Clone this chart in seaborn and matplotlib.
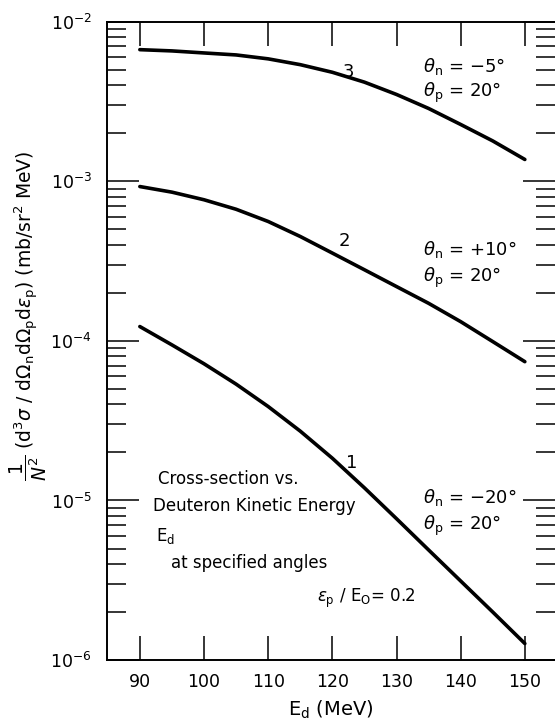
import numpy as np
import pandas as pd
import seaborn as sb
import matplotlib.pyplot as plt
from matplotlib.ticker import LogLocator, NullFormatter, FixedLocator

# energies (MeV) and cross sections
energy = [90, 95, 100, 105, 110, 115, 120, 125, 130, 135, 140, 145, 150]
curve3 = [6.68e-3, 6.56e-3, 6.37e-3, 6.19e-3, 5.85e-3, 5.38e-3, 4.82e-3,
          4.18e-3, 3.50e-3, 2.86e-3, 2.27e-3, 1.79e-3, 1.37e-3]
curve2 = [9.27e-4, 8.55e-4, 7.66e-4, 6.68e-4, 5.60e-4, 4.51e-4, 3.55e-4,
          2.79e-4, 2.19e-4, 1.72e-4, 1.32e-4, 9.9e-5, 7.41e-5]
curve1 = [1.23e-4, 9.44e-5, 7.19e-5, 5.36e-5, 3.88e-5, 2.72e-5, 1.84e-5,
          1.20e-5, 7.69e-6, 4.90e-6, 3.13e-6, 2.00e-6, 1.27e-6]
x_ticks = [90, 100, 110, 120, 130, 140, 150]
x_labels = ["90", "100", "110", "120", "130", "140", "150"]

n = len(energy)
df = pd.DataFrame({
    "E": energy * 3,
    "xs": curve1 + curve2 + curve3,
    "curve": ["1"] * n + ["2"] * n + ["3"] * n,
})

sb.set_style("white")
plt.rcParams["font.family"] = ["DejaVu Sans"]
plt.rcParams["mathtext.fontset"] = "dejavusans"
for k in ["text.color", "axes.labelcolor", "xtick.color", "ytick.color"]:
    plt.rcParams[k] = "black"

fig = plt.figure(figsize=(5.55, 7.23), dpi=100)
ax = fig.add_axes([0.193, 0.087, 0.807, 0.883])

sb.lineplot(data=df, x="E", y="xs", units="curve", estimator=None,
            color="black", lw=2.6, ax=ax, legend=False)
ax.set_yscale("log")
ax.set_xlim(84.9, 154.7)
ax.set_ylim(1e-6, 1e-2)

for s in ["left", "top", "bottom"]:
    ax.spines[s].set_linewidth(1.4)
    ax.spines[s].set_color("black")
ax.spines["right"].set_visible(False)

ax.xaxis.set_major_locator(FixedLocator(x_ticks))
ax.set_xticklabels(x_labels)
ax.tick_params(axis="x", which="major", direction="in", top=True, bottom=True,
               length=17, width=1.1, labelsize=12.5, pad=9)
ax.yaxis.set_major_locator(LogLocator(base=10, numticks=10))
ax.yaxis.set_minor_locator(LogLocator(base=10, subs=np.arange(2, 10), numticks=20))
ax.yaxis.set_minor_formatter(NullFormatter())
ax.tick_params(axis="y", which="major", direction="in", left=True, right=True,
               length=23, width=1.1, labelsize=12.5, pad=11)
ax.tick_params(axis="y", which="minor", direction="in", left=True, right=True,
               length=14, width=1.1)

ax.set_xlabel("E$_\\mathregular{d}$ (MeV)", fontsize=14, labelpad=6)
ax.set_ylabel("$\\dfrac{1}{N^2}$ (d$^3\\sigma$ / d$\\Omega_\\mathregular{n}$d$\\Omega_\\mathregular{p}$"
              "d$\\epsilon_\\mathregular{p}$) (mb/sr$^2$ MeV)",
              fontsize=13.5)
ax.yaxis.set_label_coords(-0.13, 0.54)

fs = 13
ax.text(121.6, 4.5e-3, "3", fontsize=fs)
ax.text(121.0, 3.92e-4, "2", fontsize=fs)
ax.text(122.1, 1.6e-5, "1", fontsize=fs)

ax.text(134.2, 4.87e-3, "$\\theta_\\mathregular{n}$ = \u22125\u00b0", fontsize=fs)
ax.text(134.2, 3.35e-3, "$\\theta_\\mathregular{p}$ = 20\u00b0", fontsize=fs)
ax.text(134.2, 3.45e-4, "$\\theta_\\mathregular{n}$ = +10\u00b0", fontsize=fs)
ax.text(134.2, 2.34e-4, "$\\theta_\\mathregular{p}$ = 20\u00b0", fontsize=fs)
ax.text(134.2, 9.6e-6, "$\\theta_\\mathregular{n}$ = \u221220\u00b0", fontsize=fs)
ax.text(134.2, 6.5e-6, "$\\theta_\\mathregular{p}$ = 20\u00b0", fontsize=fs)

fs2 = 12
ax.text(92.8, 1.37e-5, "Cross-section vs.", fontsize=fs2, va="center")
ax.text(92.0, 9.3e-6, "Deuteron Kinetic Energy", fontsize=fs2, va="center")
ax.text(92.5, 6.0e-6, "E$_\\mathregular{d}$", fontsize=fs2, va="center")
ax.text(94.8, 4.04e-6, "at specified angles", fontsize=fs2, va="center")
ax.text(117.6, 2.44e-6, "$\\epsilon_\\mathregular{p}$ / E$_\\mathregular{O}$= 0.2",
        fontsize=fs2, va="center")

fig.savefig("out.png", dpi=100)
